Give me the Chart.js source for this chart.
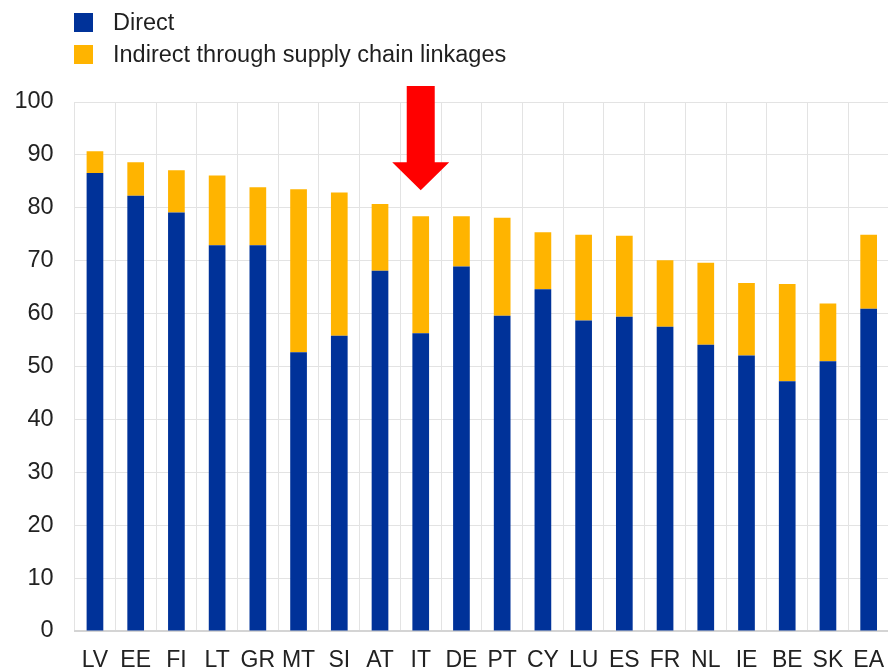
<!DOCTYPE html>
<html>
<head>
<meta charset="utf-8">
<script src="https://cdn.jsdelivr.net/npm/chart.js@4.4.1/dist/chart.umd.min.js"></script>
<style>
  html, body { margin: 0; padding: 0; background: #fff; overflow: hidden; width: 888px; height: 668px; }
  #wrap { position: relative; width: 900px; height: 668px; }
  canvas { position: absolute; left: 0; top: 0; }
  .leg { position: absolute; left: 74px; font-family: "Liberation Sans", Arial, sans-serif; font-size: 23.5px; color: #1f1f1f; display: flex; align-items: center; white-space: nowrap; }
  .leg span.box { display: inline-block; width: 19px; height: 19px; margin-right: 20px; }
</style>
</head>
<body>
<div id="wrap">
  <canvas id="c" width="900" height="668"></canvas>
  <div class="leg" style="top:9px;"><span class="box" style="background:#003299"></span><span>Direct</span></div>
  <div class="leg" style="top:41px;"><span class="box" style="background:#FFB400"></span><span>Indirect through supply chain linkages</span></div>
</div>
<script>
const categories = ["LV","EE","FI","LT","GR","MT","SI","AT","IT","DE","PT","CY","LU","ES","FR","NL","IE","BE","SK","EA"];
const directValues   = [86.6, 82.3, 79.1, 72.9, 72.9, 52.7, 55.8, 68.1, 56.3, 68.9, 59.6, 64.6, 58.7, 59.4, 57.5, 54.1, 52.1, 47.2, 51.0, 60.9];
const indirectValues = [4.1, 6.3, 8.0, 13.2, 11.0, 30.8, 27.1, 12.6, 22.1, 9.5, 18.5, 10.8, 16.2, 15.3, 12.6, 15.5, 13.7, 18.4, 10.9, 14.0];
const yTicks = [0,10,20,30,40,50,60,70,80,90,100];
const highlighted = "IT";

const arrowPlugin = {
  id: 'arrow',
  afterDraw(chart) {
    const xs = chart.scales.x, ys = chart.scales.y;
    const idx = categories.indexOf(highlighted);
    const cx = xs.getPixelForValue(idx);
    const tip = ys.getPixelForValue(83.3);
    const headBase = ys.getPixelForValue(88.6);
    const top = 86;
    const ctx = chart.ctx;
    ctx.save();
    ctx.fillStyle = '#FF0000';
    ctx.beginPath();
    ctx.moveTo(cx - 14, top);
    ctx.lineTo(cx + 14, top);
    ctx.lineTo(cx + 14, headBase);
    ctx.lineTo(cx + 28.5, headBase);
    ctx.lineTo(cx, tip);
    ctx.lineTo(cx - 28.5, headBase);
    ctx.lineTo(cx - 14, headBase);
    ctx.closePath();
    ctx.fill();
    ctx.restore();
  }
};

new Chart(document.getElementById('c'), {
  type: 'bar',
  data: {
    labels: categories,
    datasets: [
      { label: 'Direct', data: directValues, backgroundColor: '#003299', stack: 's' },
      { label: 'Indirect through supply chain linkages', data: indirectValues, backgroundColor: '#FFB400', stack: 's' }
    ]
  },
  options: {
    responsive: false,
    animation: false,
    layout: { padding: { top: 102, left: 0, right: 0, bottom: 0 } },
    datasets: { bar: { categoryPercentage: 1.0, barPercentage: 0.41 } },
    plugins: { legend: { display: false }, tooltip: { enabled: false } },
    scales: {
      x: {
        stacked: true,
        afterFit(s) { s.height = 37; },
        grid: { color: '#e3e3e3', lineWidth: 1, drawTicks: false, offset: true },
        border: { color: '#d4d4d4', width: 2 },
        ticks: { color: '#222', padding: 16, font: { family: 'Liberation Sans', size: 23 }, maxRotation: 0, autoSkip: false }
      },
      y: {
        stacked: true,
        min: 0, max: 100,
        afterFit(s) { s.width = 74.6; },
        afterBuildTicks(s) { s.ticks = yTicks.map(v => ({ value: v })); },
        grid: { color: '#e3e3e3', lineWidth: 1, drawTicks: false },
        border: { display: false },
        ticks: { color: '#222', padding: 21, font: { family: 'Liberation Sans', size: 23.5 } }
      }
    }
  },
  plugins: [arrowPlugin]
});
</script>
</body>
</html>
